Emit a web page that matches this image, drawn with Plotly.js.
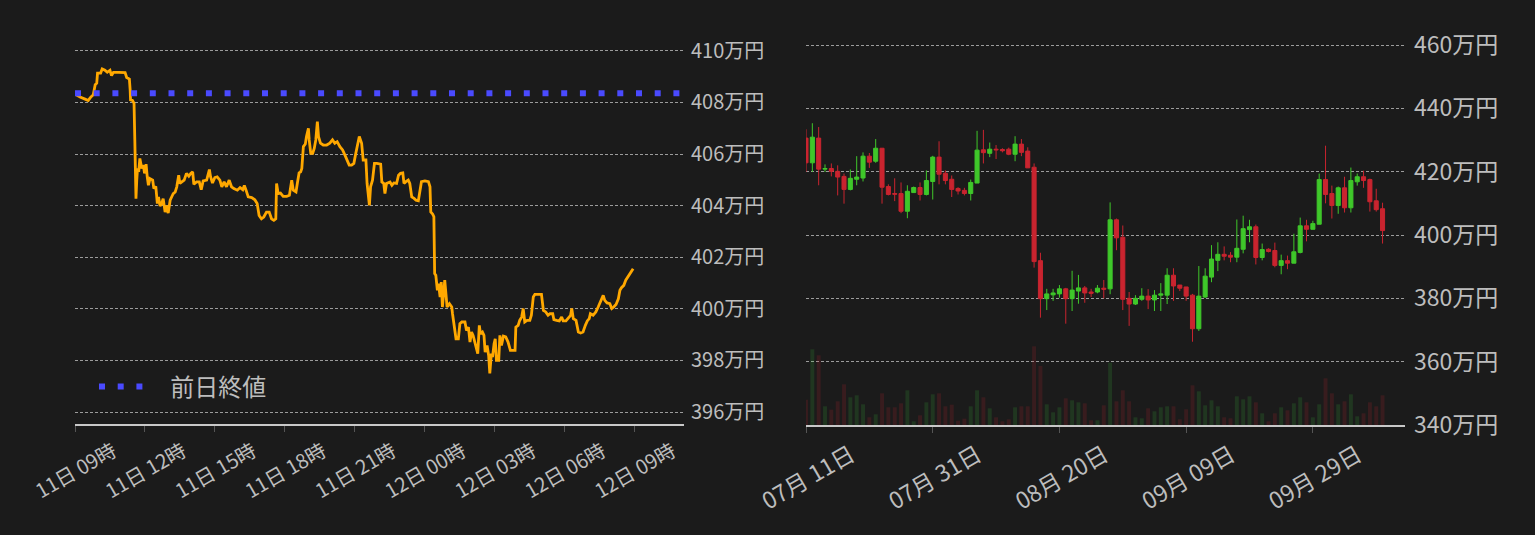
<!DOCTYPE html>
<html>
<head>
<meta charset="utf-8">
<script src="https://cdn.plot.ly/plotly-3.0.1.min.js"></script>
<style>
html,body{margin:0;padding:0;background:#1b1b1b;}
#chart{width:1535px;height:535px;}
</style>
</head>
<body>
<div id="chart"></div>
<script>
// ---------- Left chart: intraday price (万円), minutes since 11日 09:00 ----------
const intradayMinutes = [3,13,26,34,40,47,52,56,58,66,70,77,83,90,94,99,112,129,133,140,142,143,148,152,154,155,157,159,161,164,167,172,176,179,183,186,189,193,200,203,208,212,215,219,223,227,232,236,240,245,250,253,258,262,267,270,275,281,287,293,298,303,306,313,320,325,330,339,346,349,354,360,366,373,378,384,390,397,403,409,418,425,432,436,440,446,455,463,469,474,480,486,493,500,506,512,517,519,523,529,536,545,552,558,562,569,573,577,581,584,588,593,596,601,603,607,612,616,620,624,627,632,639,648,656,663,669,675,682,689,695,701,706,712,718,723,728,732,738,742,749,752,758,761,766,771,777,783,787,790,795,798,802,811,816,821,828,833,838,844,847,852,858,862,867,873,878,884,888,892,901,910,914,916,921,924,926,929,933,936,940,943,946,950,952,955,958,964,970,972,976,981,987,991,996,1004,1008,1013,1017,1021,1025,1030,1034,1037,1041,1044,1049,1053,1056,1061,1065,1068,1072,1075,1079,1082,1085,1091,1094,1098,1103,1109,1115,1121,1128,1133,1135,1141,1145,1150,1154,1158,1164,1171,1175,1180,1184,1193,1201,1206,1212,1218,1223,1230,1233,1240,1247,1253,1257,1264,1270,1276,1279,1283,1290,1296,1302,1308,1314,1319,1324,1327,1334,1341,1347,1351,1356,1360,1364,1370,1377,1382,1387,1393,1399,1403,1407,1413,1418,1424,1429,1433,1437];
const intradayPrice = [408.30,408.21,408.13,408.08,408.20,408.30,408.69,408.75,409.14,409.14,409.30,409.25,409.17,409.25,409.04,409.17,409.17,409.16,408.97,408.91,408.49,408.10,408.08,407.97,406.55,405.12,404.27,404.99,405.44,405.31,405.83,405.44,405.57,405.25,405.61,405.12,404.79,405.05,404.99,404.66,404.75,404.08,404.34,403.99,404.08,404.27,403.75,404.01,403.71,404.21,404.34,404.47,404.53,404.73,405.18,404.86,404.92,404.99,405.25,405.14,405.25,405.31,404.83,404.92,404.92,404.62,404.96,404.99,405.40,405.12,404.88,405.09,405.12,404.99,404.73,404.92,404.73,404.99,404.73,404.66,404.60,404.70,404.62,404.78,404.62,404.34,404.31,404.23,404.08,403.62,403.49,403.56,403.75,403.75,403.49,403.43,403.49,404.86,404.47,404.49,404.36,404.36,404.40,404.99,404.60,404.53,404.92,405.27,405.31,405.44,406.29,406.39,406.68,407.00,406.55,406.03,406.03,406.22,406.55,407.26,406.68,406.42,406.35,406.35,406.42,406.55,406.42,406.48,406.29,406.16,405.96,405.77,405.57,405.57,405.64,406.03,406.42,406.68,406.42,405.77,405.77,404.86,404.01,404.73,404.99,405.64,405.64,405.61,405.61,404.92,404.86,404.47,404.86,404.92,404.79,404.88,404.86,405.18,405.25,405.27,404.86,404.93,404.99,404.86,404.34,404.28,404.21,404.19,404.60,404.93,404.96,404.93,404.73,403.76,403.67,403.57,401.37,401.30,400.72,400.98,400.46,401.04,400.07,400.72,401.11,400.59,400.07,400.20,400.07,399.81,399.29,398.84,398.84,399.42,399.49,399.49,399.16,399.29,398.71,399.10,398.97,398.65,398.45,398.26,399.36,399.04,399.10,398.97,398.32,398.58,398.19,397.50,398.26,398.13,398.65,398.84,398.00,398.00,398.97,398.58,398.94,398.91,398.71,398.39,398.39,398.39,399.29,399.36,399.55,399.68,400.01,399.49,399.55,399.55,399.75,400.46,400.56,400.56,400.56,399.94,399.88,399.75,399.81,399.81,399.58,399.55,399.53,399.68,399.53,399.53,399.62,399.75,400.01,399.62,399.55,399.10,399.06,399.10,399.36,399.53,399.62,399.81,399.75,399.88,400.07,400.23,400.39,400.52,400.33,400.23,400.20,400.01,400.07,400.17,400.39,400.72,400.82,400.91,401.11,401.24,401.37,401.43,401.55];
const prevClose = 408.36;
const prevCloseLabel = '前日終値';
const leftTickValues = [396,398,400,402,404,406,408,410];

// ---------- Right chart: daily OHLC (万円) from 07月11日 ----------
const dailyStart = '2023-07-11';
const dailyOpen = [430.6,422.8,430.6,420.8,421.0,420.1,418.5,414.4,417.6,418.0,424.9,423.3,427.4,415.3,413.1,413.1,407.5,413.4,415.0,412.8,416.9,424.6,419.5,417.6,414.7,414.1,413.1,416.4,426.9,425.8,427.1,427.0,427.1,425.5,428.7,426.5,421.4,391.9,379.9,381.1,381.4,383.0,379.9,382.3,383.3,382.0,382.0,383.2,383.0,404.8,399.3,380.0,378.2,379.7,380.7,379.5,381.0,381.0,387.3,384.2,383.6,381.0,370.4,380.4,386.7,392.0,393.9,393.6,393.0,395.5,401.7,402.6,392.9,395.5,395.1,390.4,391.9,391.1,394.5,402.9,401.8,403.4,417.5,413.1,409.3,414.9,408.6,416.8,418.4,417.5,410.8,408.3];
const dailyHigh = [433.4,435.3,434.1,422.3,422.6,422.0,419.4,420.7,424.9,426.1,425.9,430.3,427.5,416.0,417.9,416.6,415.7,415.3,416.6,420.4,425.0,429.6,420.4,418.8,415.1,414.9,417.5,432.9,433.2,429.2,428.4,427.4,427.6,431.2,430.3,427.7,422.6,394.4,383.0,383.0,384.2,383.3,388.7,387.4,383.9,383.0,384.2,385.8,410.3,405.2,403.0,382.0,381.0,383.2,382.9,382.6,384.8,389.5,389.5,384.2,383.6,381.4,390.2,389.5,396.8,397.7,396.4,394.6,404.9,406.1,404.8,403.3,397.3,395.8,397.6,393.8,393.5,400.4,405.5,404.8,404.5,419.4,428.2,415.6,415.3,418.4,421.3,419.4,420.3,417.8,414.6,410.2];
const dailyLow = [419.9,419.9,415.7,419.9,418.5,412.5,409.9,414.1,415.7,416.9,421.2,422.8,409.9,412.5,410.7,406.9,405.3,413.4,410.9,412.5,411.2,416.0,416.0,412.0,412.8,412.5,410.9,416.4,422.6,424.6,424.0,426.1,425.2,423.3,424.9,421.2,389.7,373.9,376.3,379.2,380.2,372.0,376.0,378.3,378.6,380.4,381.6,380.0,381.3,395.2,376.3,371.3,377.9,379.2,376.6,376.0,376.0,378.2,379.2,382.3,379.2,366.3,369.7,380.1,385.1,388.6,392.0,391.4,391.4,394.2,397.7,390.7,392.0,394.5,389.8,387.6,389.2,391.1,394.2,398.0,401.8,403.4,410.0,405.2,406.7,407.1,407.1,415.6,414.9,407.4,407.4,397.3];
const dailyClose = [422.8,430.9,420.8,421.0,420.1,418.3,414.4,417.9,418.3,424.9,423.0,427.4,415.1,412.8,412.9,407.5,413.8,415.0,412.8,417.2,424.6,419.2,417.2,414.4,413.9,413.1,416.6,426.8,426.0,427.1,426.9,426.6,425.5,428.7,426.1,421.2,391.6,379.9,381.4,381.7,383.0,379.9,382.6,383.3,381.7,381.6,383.2,382.9,404.8,399.1,379.7,378.2,380.0,380.7,379.5,381.0,381.4,387.3,383.9,383.2,380.7,370.4,380.7,387.0,392.4,393.9,393.3,393.0,395.8,402.0,402.6,392.9,395.4,394.8,390.4,391.9,391.1,394.7,402.9,401.8,403.6,417.5,412.8,409.3,414.9,408.6,417.2,418.4,417.2,410.5,408.0,401.4];
const dailyVolume = [76,227,209,56,46,71,122,83,89,62,23,32,95,53,53,65,104,11,29,68,92,95,56,61,13,19,56,104,83,50,23,11,17,53,56,56,236,177,62,38,53,80,74,68,65,14,14,59,187,71,104,71,23,20,50,41,53,56,56,17,47,119,101,59,74,56,23,20,86,77,86,68,35,11,35,53,44,65,83,68,23,62,140,95,62,71,92,26,35,68,56,89];
const rightTickValues = [340,360,380,400,420,440,460];

// ---------- build x values ----------
function pad(n){return (n<10?'0':'')+n;}
function intradayTime(m){
  const total = 9*60 + m;
  const day = 11 + Math.floor(total/1440);
  const rem = total % 1440;
  return '2023-10-' + pad(day) + ' ' + pad(Math.floor(rem/60)) + ':' + pad(rem%60);
}
const intradayX = intradayMinutes.map(intradayTime);
const leftRange = ['2023-10-11 09:00', '2023-10-12 11:00'];

const d0 = new Date(dailyStart + 'T00:00:00Z');
const dailyX = dailyOpen.map((_, i) => {
  const d = new Date(d0.getTime() + i*86400000);
  return d.getUTCFullYear() + '-' + pad(d.getUTCMonth()+1) + '-' + pad(d.getUTCDate());
});

const GREEN = '#3fc72a', RED = '#c9242f';
const volColors = dailyOpen.map((o,i) => dailyClose[i] >= o ? 'rgba(60,200,60,0.16)' : 'rgba(210,40,50,0.16)');

const FONT = 'Noto Sans CJK JP, Noto Sans, sans-serif';
const TXT = '#bdbdbd';
const W = 1535, H = 535;

const traces = [
  {
    x: intradayX, y: intradayPrice, type: 'scatter', mode: 'lines',
    line: {color: '#ffa800', width: 2.8}, xaxis: 'x', yaxis: 'y', showlegend: false, hoverinfo: 'skip'
  },
  {
    x: leftRange, y: [prevClose, prevClose], type: 'scatter', mode: 'lines',
    name: '\u00a0\u00a0\u00a0' + prevCloseLabel,
    line: {color: '#4a4aff', width: 6, dash: '6px,12.7px'}, xaxis: 'x', yaxis: 'y', showlegend: true
  },
  {
    x: dailyX, y: dailyVolume, type: 'bar', marker: {color: volColors, line: {width: 0}},
    width: 86400000*0.62, xaxis: 'x2', yaxis: 'y3', showlegend: false, hoverinfo: 'skip'
  },
  {
    x: dailyX, open: dailyOpen, high: dailyHigh, low: dailyLow, close: dailyClose,
    type: 'candlestick', xaxis: 'x2', yaxis: 'y2', showlegend: false, whiskerwidth: 0,
    increasing: {line: {color: GREEN, width: 1}, fillcolor: GREEN},
    decreasing: {line: {color: RED, width: 1}, fillcolor: RED}
  }
];

const gridStyle = {showgrid: true, gridcolor: 'rgba(200,200,200,0.75)', gridwidth: 1, griddash: '3px,2px'};

const layout = {
  width: W, height: H,
  paper_bgcolor: '#1b1b1b', plot_bgcolor: '#1b1b1b',
  margin: {l: 0, r: 0, t: 0, b: 0},
  font: {family: FONT, color: TXT},
  boxgap: 0.2, boxgroupgap: 0.2,
  showlegend: true,
  legend: {
    x: 94/W, y: 1 - 387/H, xanchor: 'left', yanchor: 'middle',
    bgcolor: 'rgba(0,0,0,0)', font: {size: 24, color: TXT, family: FONT},
    itemwidth: 50
  },
  xaxis: {
    domain: [75/W, 684/W], anchor: 'y', type: 'date', range: ['2023-10-11 09:00', '2023-10-12 11:08'],
    showgrid: false, zeroline: false,
    showline: true, linecolor: '#c8c8c8', linewidth: 2,
    ticks: 'outside', ticklen: 6, tickcolor: '#555', tickwidth: 1,
    tick0: '2023-10-11 09:00', dtick: 3*3600000, tickformat: '%d日 %H時',
    tickangle: -30, ticklabelshift: 38, ticklabelstandoff: 0,
    tickfont: {size: 20, color: TXT, family: FONT}
  },
  yaxis: Object.assign({
    domain: [1 - 424/H, 1 - 30/H], anchor: 'x', side: 'right',
    range: [395.535, 410.81], zeroline: false, showline: false,
    tickmode: 'array', tickvals: leftTickValues, ticktext: leftTickValues.map(v => v + '万円'),
    ticks: '', ticklabelstandoff: 6, tickfont: {size: 20, color: TXT, family: FONT}
  }, gridStyle),
  xaxis2: {
    domain: [806/W, 1405/W], anchor: 'y2', type: 'date',
    range: [dailyStart, '2023-10-13 13:00'],
    rangeslider: {visible: false},
    showgrid: false, zeroline: false,
    showline: true, linecolor: '#c8c8c8', linewidth: 2,
    ticks: 'outside', ticklen: 6, tickcolor: '#555', tickwidth: 1,
    tick0: dailyStart, dtick: 20*86400000, tickformat: '%m月 %d日',
    tickangle: -30, ticklabelshift: 45, ticklabelstandoff: 0,
    tickfont: {size: 23, color: TXT, family: FONT}
  },
  yaxis2: Object.assign({
    domain: [1 - 425/H, 1 - 30/H], anchor: 'x2', side: 'right',
    range: [340, 464.74], zeroline: false, showline: false,
    tickmode: 'array', tickvals: rightTickValues, ticktext: rightTickValues.map(v => v + '万円'),
    ticks: '', ticklabelstandoff: 8, tickfont: {size: 23, color: TXT, family: FONT}
  }, gridStyle),
  yaxis3: {
    overlaying: 'y2', anchor: 'x2', side: 'left', range: [0, 1185],
    visible: false, showgrid: false, zeroline: false
  }
};

Plotly.newPlot('chart', traces, layout, {staticPlot: true, displayModeBar: false});
</script>
</body>
</html>
